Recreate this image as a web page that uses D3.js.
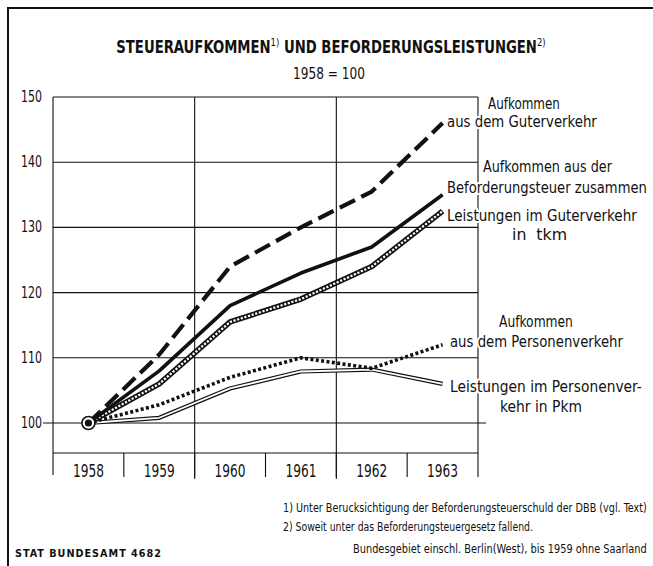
<!DOCTYPE html>
<html>
<head>
<meta charset="utf-8">
<script src="https://cdn.jsdelivr.net/npm/d3@7/dist/d3.min.js"></script>
<style>
  body { margin: 0; background: #fff; }
  svg { display: block; }
  text { font-family: 'Liberation Sans Narrow', 'DejaVu Sans Condensed', 'Arial Narrow', sans-serif; fill: #111; }
  .halo { paint-order: stroke; stroke: #fff; stroke-width: 4px; stroke-linejoin: round; }
</style>
</head>
<body>
<svg id="chart" width="653" height="566"></svg>
<script>
// Jahre und Indexwerte (1958 = 100)
const years = ["1958", "1959", "1960", "1961", "1962", "1963"];
const aufkommenGueter = [100, 110.5, 124, 130, 135.5, 146];
const aufkommenGesamt = [100, 108, 118, 123, 127, 135];
const leistungGueter = [100, 106, 115.5, 119, 124, 132.5];
const aufkommenPersonen = [100, 102.8, 107, 110, 108.4, 112];
const leistungPersonen = [100, 100.8, 105.3, 107.9, 108.2, 106];
const yTicks = [100, 110, 120, 130, 140, 150];

const svg = d3.select("#chart");
const ink = "#111";

// scales
const x = d3.scaleBand().domain(years).range([53, 478]).padding(0);
const y = d3.scaleLinear().domain([100, 150]).range([423, 97]);
const cx = d => x(d) + x.bandwidth() / 2;
const bottom = y(95.4);

// the print uses a narrow face: squeeze text horizontally to the measured width
function narrow(parent, str, px, py, width, size, anchor, cls) {
  const g = parent.append("g");
  const t = g.append("text")
    .attr("text-anchor", anchor || "start")
    .style("font-size", size + "px");
  if (cls) t.attr("class", cls);
  if (typeof str === "function") str(t); else t.text(str);
  const w = t.node().getComputedTextLength();
  const sx = width / w;
  g.attr("transform", "translate(" + px + "," + py + ") scale(" + sx + ",1)");
  return t;
}

// outer border (left + top)
svg.append("path")
  .attr("d", "M8,566 L8,8 L653,8")
  .attr("fill", "none").attr("stroke", ink).attr("stroke-width", 2);

// title
narrow(svg, t => {
  t.style("font-weight", "bold");
  t.append("tspan").text("STEUERAUFKOMMEN");
  t.append("tspan").attr("dy", -7).style("font-size", "11px").style("font-weight", "normal").text("1)");
  t.append("tspan").attr("dy", 7).text(" UND BEFORDERUNGSLEISTUNGEN");
  t.append("tspan").attr("dy", -7).style("font-size", "11px").style("font-weight", "normal").text("2)");
}, 331, 53, 430, 17, "middle");

narrow(svg, "1958 = 100", 329, 79, 72, 16, "middle");

// horizontal grid
const grid = svg.append("g").attr("stroke", ink).attr("stroke-width", 1.1);
grid.selectAll("line.h")
  .data(yTicks)
  .enter().append("line")
  .attr("x1", d => d === 100 ? 43 : 53)
  .attr("x2", d => d === 100 ? 486 : 478)
  .attr("y1", d => y(d)).attr("y2", d => y(d));

// bottom of plot area
grid.append("line")
  .attr("x1", 53).attr("x2", 478)
  .attr("y1", bottom).attr("y2", bottom);

// vertical grid, every second year
const fullVert = [years[0], years[2], years[4]];
grid.selectAll("line.v")
  .data(fullVert)
  .enter().append("line")
  .attr("x1", d => x(d)).attr("x2", d => x(d))
  .attr("y1", y(150)).attr("y2", d => d === years[0] ? bottom : bottom + 26);

// year band separators
grid.selectAll("line.sep")
  .data(years)
  .enter().append("line")
  .attr("x1", d => x(d) + x.bandwidth()).attr("x2", d => x(d) + x.bandwidth())
  .attr("y1", bottom).attr("y2", bottom + 24);
grid.append("line")
  .attr("x1", x(years[0])).attr("x2", x(years[0]))
  .attr("y1", bottom).attr("y2", bottom + 22);

// right frame
grid.append("line")
  .attr("x1", 478).attr("x2", 478)
  .attr("y1", y(150)).attr("y2", bottom);

// y labels
yTicks.forEach(v => narrow(svg, String(v), 42, y(v) + 5, 21, 15, "end"));

// year labels
years.forEach(v => narrow(svg, v, cx(v), bottom + 24, 31, 17, "middle"));

// lines
const line = d3.line()
  .x((d, i) => cx(years[i]))
  .y(d => y(d));

const plot = svg.append("g").attr("fill", "none").attr("stroke-linejoin", "round");

// Leistungen im Personenverkehr: double line
plot.append("path").attr("d", line(leistungPersonen))
  .attr("stroke", ink).attr("stroke-width", 4.2);
plot.append("path").attr("d", line(leistungPersonen))
  .attr("stroke", "#fff").attr("stroke-width", 1.8);

// Aufkommen aus dem Personenverkehr: dotted
plot.append("path").attr("d", line(aufkommenPersonen))
  .attr("stroke", ink).attr("stroke-width", 3.6)
  .attr("stroke-dasharray", "3,2.4");

// Leistungen im Güterverkehr: hatched
plot.append("path").attr("d", line(leistungGueter))
  .attr("stroke", ink).attr("stroke-width", 5.5);
plot.append("path").attr("d", line(leistungGueter))
  .attr("stroke", "#fff").attr("stroke-width", 2.2)
  .attr("stroke-dasharray", "2.2,1.6");

// Aufkommen zusammen: solid
plot.append("path").attr("d", line(aufkommenGesamt))
  .attr("stroke", ink).attr("stroke-width", 3.6);

// Aufkommen aus dem Güterverkehr: dashed
plot.append("path").attr("d", line(aufkommenGueter))
  .attr("stroke", ink).attr("stroke-width", 4.2)
  .attr("stroke-dasharray", "17,7");

// base point
svg.append("circle").attr("cx", cx(years[0])).attr("cy", y(100)).attr("r", 6.5)
  .attr("fill", "#fff").attr("stroke", ink).attr("stroke-width", 1.6);
svg.append("circle").attr("cx", cx(years[0])).attr("cy", y(100)).attr("r", 3.6)
  .attr("fill", ink);

// series labels
const labels = [
  { t: "Aufkommen", x: 488, y: 109, w: 72 },
  { t: "aus dem Guterverkehr", x: 447, y: 127, w: 150 },
  { t: "Aufkommen aus der", x: 483, y: 172, w: 129 },
  { t: "Beforderungsteuer zusammen", x: 447, y: 193, w: 200 },
  { t: "Leistungen im Guterverkehr", x: 447, y: 221, w: 190 },
  { t: "in\u00a0\u00a0tkm", x: 512, y: 240, w: 55 },
  { t: "Aufkommen", x: 499, y: 327, w: 74 },
  { t: "aus dem Personenverkehr", x: 450, y: 347, w: 173 },
  { t: "Leistungen im Personenver-", x: 450, y: 392, w: 192 },
  { t: "kehr in Pkm", x: 500, y: 412, w: 82 }
];
labels.forEach(d => narrow(svg, d.t, d.x, d.y, d.w, 15, "start", "halo"));

// footnotes
const notes = [
  { t: "1) Unter Berucksichtigung der Beforderungsteuerschuld der DBB (vgl. Text)", x: 283, y: 512, w: 364 },
  { t: "2) Soweit unter das Beforderungsteuergesetz fallend.", x: 283, y: 531, w: 250 },
  { t: "Bundesgebiet einschl. Berlin(West), bis 1959 ohne Saarland", x: 353, y: 553, w: 294 }
];
notes.forEach(d => narrow(svg, d.t, d.x, d.y, d.w, 13, "start"));

narrow(svg, t => t.style("font-weight", "bold").style("letter-spacing", "1px").text("STAT BUNDESAMT 4682"),
  15, 557, 147, 11, "start");
</script>
</body>
</html>
